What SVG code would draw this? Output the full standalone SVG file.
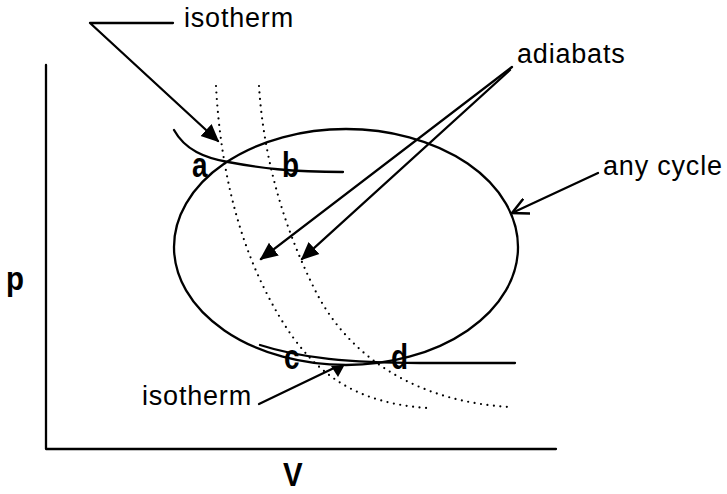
<svg xmlns="http://www.w3.org/2000/svg" width="727" height="494" viewBox="0 0 727 494">
<style>
.ln{fill:none;stroke:#000;stroke-width:2.3;stroke-linecap:round;stroke-linejoin:round}
.dot{fill:none;stroke:#000;stroke-width:2.2;stroke-linecap:round;stroke-dasharray:0 6.5}
.lbl{font-family:"Liberation Sans",Arial,sans-serif;font-size:27px;letter-spacing:0.8px;fill:#000}
.pt{font-family:"Liberation Sans",Arial,sans-serif;font-size:31px;font-weight:bold;fill:#000}
</style>
<defs>
<marker id="fa2" viewBox="0 0 10 10" refX="9" refY="5" markerWidth="18" markerHeight="18" markerUnits="userSpaceOnUse" orient="auto"><path d="M0,0.5 L10,5 L0,9.5 Z" fill="#000"/></marker>
<marker id="oa" viewBox="0 0 10 10" refX="9" refY="5" markerWidth="18" markerHeight="18" markerUnits="userSpaceOnUse" orient="auto"><path d="M0,0.5 L9,5 L0,9.5" fill="none" stroke="#000" stroke-width="1.4"/></marker>
</defs>
<g id="axes">
<path class="ln" d="M46,65 L46,449 L556,449"/>
<text class="pt" transform="translate(6,290) scale(0.95,1.1)" font-size="32">p</text>
<text class="pt" transform="translate(283,486) scale(0.95,1.1)" font-size="31">V</text>
</g>
<g id="cycle">
<ellipse class="ln" cx="346" cy="247" rx="172" ry="118" stroke-width="2.6"/>
</g>
<g id="adiabats">
<path class="dot" d="M216,86 C220,160 235,230 265,290 C300,360 340,402 427,408"/>
<path class="dot" d="M259,86 C263,150 280,220 315,290 C350,360 420,402 510,407"/>
</g>
<g id="isotherm-top">
<path class="ln" d="M174,130 C185,150 205,158 228,162 C260,168 290,172 343,172"/>
</g>
<g id="isotherm-bottom">
<path class="ln" d="M260,345 C300,358 350,363 420,363 L515,363"/>
</g>
<g id="points">
<text class="pt" transform="translate(192,177) scale(0.9,1.15)">a</text>
<text class="pt" transform="translate(282,177) scale(0.9,1.15)">b</text>
<text class="pt" transform="translate(284,369) scale(0.9,1.15)">c</text>
<text class="pt" transform="translate(391,369) scale(0.9,1.15)">d</text>
</g>
<g id="labels">
<text class="lbl" x="184" y="27">isotherm</text>
<text class="lbl" x="517" y="63">adiabats</text>
<text class="lbl" x="603" y="175">any cycle</text>
<text class="lbl" x="142" y="405">isotherm</text>
</g>
<g id="connectors">
<path class="ln" d="M173,23 L90,23 L218,141" marker-end="url(#fa2)"/>
<path class="ln" d="M512,67 L261,259" marker-end="url(#fa2)"/>
<path class="ln" d="M510,70 L302,259" marker-end="url(#fa2)"/>
<path class="ln" d="M598,173 L512,213" marker-end="url(#oa)"/>
<path class="ln" d="M259,404 L334,368"/>
<path d="M331,366 L344,366 L338,377 Z" fill="#000"/>
</g>
</svg>
